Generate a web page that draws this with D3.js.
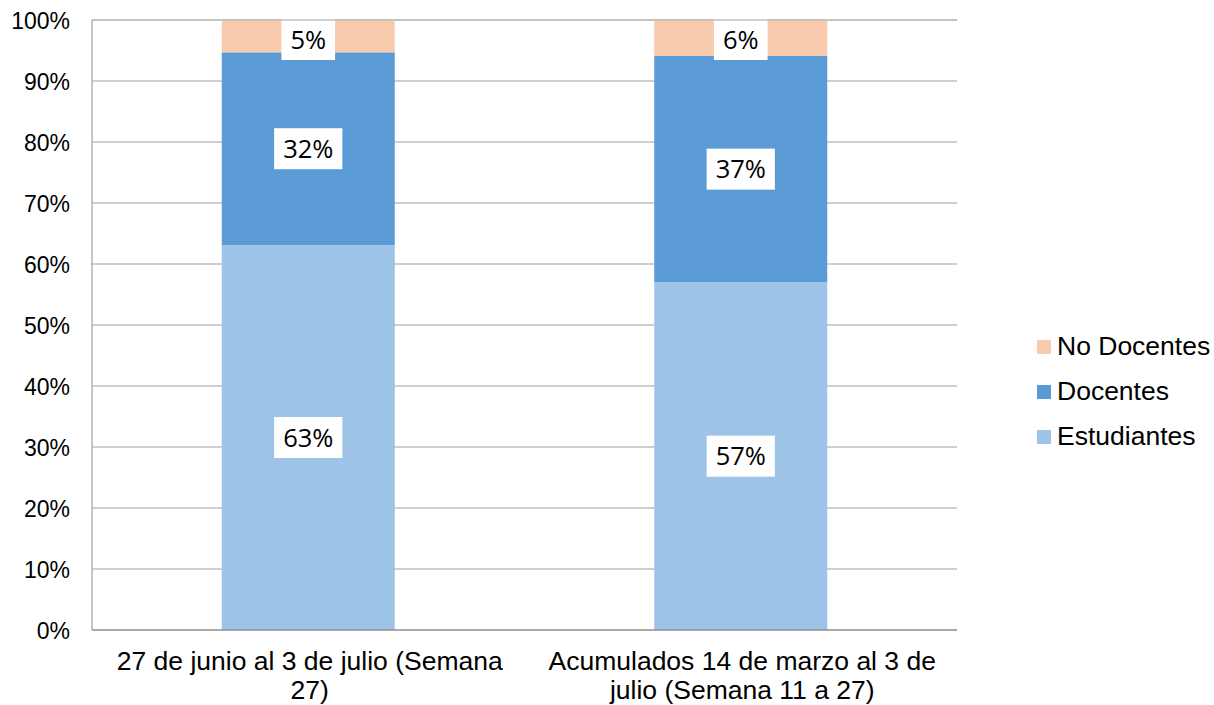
<!DOCTYPE html>
<html>
<head>
<meta charset="utf-8">
<script src="https://cdn.jsdelivr.net/npm/d3@7"></script>
<style>
  body { margin: 0; background: #fff; }
  svg { display: block; }
</style>
</head>
<body>
<svg id="chart"></svg>
<script>
// data
let categories = ["27 de junio al 3 de julio (Semana 27)", "Acumulados 14 de marzo al 3 de julio (Semana 11 a 27)"];
let categoryLines = [["27 de junio al 3 de julio (Semana", "27)"], ["Acumulados 14 de marzo al 3 de", "julio (Semana 11 a 27)"]];
let seriesNames = ["Estudiantes", "Docentes", "No Docentes"];
let estudiantes = [63.1, 57.0];
let docentes = [31.6, 37.1];
let noDocentes = [5.3, 5.9];
let yTicks = [0, 10, 20, 30, 40, 50, 60, 70, 80, 90, 100];

let colors = {"Estudiantes": "#9dc3e6", "Docentes": "#5b9bd5", "No Docentes": "#f8cbad"};

let width = 1214, height = 705;
let plotLeft = 92, plotRight = 957, plotTop = 20, plotBottom = 630;

let svg = d3.select("#chart").attr("width", width).attr("height", height);

let rows = categories.map(function (c, i) {
    return {cat: c, "Estudiantes": estudiantes[i], "Docentes": docentes[i], "No Docentes": noDocentes[i]};
});
let stacked = d3.stack().keys(seriesNames)(rows);

let x = d3.scaleBand().domain(categories).range([plotLeft, plotRight]).paddingInner(0.6).paddingOuter(0.3);
let y = d3.scaleLinear().domain([0, 100]).range([plotBottom, plotTop]);

// gridlines
svg.append("g").selectAll("line").data(yTicks.filter(d => d > 0))
    .enter().append("line")
    .attr("x1", plotLeft).attr("x2", plotRight)
    .attr("y1", d => y(d)).attr("y2", d => y(d))
    .attr("stroke", "#bfbfbf").attr("stroke-width", 1.3);

// y axis line
svg.append("line")
    .attr("x1", plotLeft).attr("x2", plotLeft).attr("y1", plotTop).attr("y2", plotBottom)
    .attr("stroke", "#a6a6a6").attr("stroke-width", 1.3);

// y tick labels
svg.append("g").selectAll("text").data(yTicks)
    .enter().append("text")
    .attr("x", plotLeft - 22).attr("y", d => y(d) + 1)
    .attr("dy", "0.35em")
    .attr("text-anchor", "end")
    .attr("font-family", "Liberation Sans, Arial, sans-serif")
    .attr("font-size", 23)
    .attr("fill", "#000")
    .text(d => d + "%");

// bars
let layers = svg.append("g").selectAll("g").data(stacked)
    .enter().append("g")
    .attr("fill", d => colors[d.key]);
layers.selectAll("rect").data(d => d)
    .enter().append("rect")
    .attr("x", d => x(d.data.cat))
    .attr("width", x.bandwidth())
    .attr("y", d => y(d[1]))
    .attr("height", d => y(d[0]) - y(d[1]));

// x axis line
svg.append("line")
    .attr("x1", plotLeft).attr("x2", plotRight).attr("y1", plotBottom).attr("y2", plotBottom)
    .attr("stroke", "#8c8c8c").attr("stroke-width", 1.5);

// value labels
let labelData = [];
stacked.forEach(function (layer) {
    layer.forEach(function (d) {
        let cy = y((d[0] + d[1]) / 2);
        // keep the box inside the plot area
        if (cy - 19.5 < plotTop) cy = plotTop + 19.5;
        labelData.push({cx: x(d.data.cat) + x.bandwidth() / 2, val: d[1] - d[0], cy: cy});
    });
});
let labels = svg.append("g").selectAll("g").data(labelData)
    .enter().append("g")
    .attr("transform", d => "translate(" + d.cx + "," + d.cy + ")");
labels.append("text")
    .attr("text-anchor", "middle")
    .attr("dy", "0.36em")
    .attr("font-family", "Open Sans, sans-serif")
    .attr("font-size", 25.5)
    .attr("fill", "#000")
    .text(d => Math.round(d.val) + "%");
labels.each(function () {
    let g = d3.select(this);
    let bb = g.select("text").node().getBBox();
    g.insert("rect", "text")
        .attr("x", bb.x - 9).attr("y", -20.5)
        .attr("width", bb.width + 18).attr("height", 41)
        .attr("fill", "#fff");
});
// top gridline drawn over the clipped label boxes
svg.append("line")
    .attr("x1", plotLeft).attr("x2", plotRight).attr("y1", plotTop).attr("y2", plotTop)
    .attr("stroke", "#bfbfbf").attr("stroke-width", 1.3);

// category labels
let catG = svg.append("g").selectAll("text").data(categories)
    .enter().append("text")
    .attr("x", d => x(d) + x.bandwidth() / 2 + 1.5)
    .attr("y", 670)
    .attr("text-anchor", "middle")
    .attr("font-family", "Liberation Sans, Arial, sans-serif")
    .attr("font-size", 26.5)
    .attr("fill", "#000");
catG.selectAll("tspan").data((d, i) => categoryLines[i])
    .enter().append("tspan")
    .attr("x", function () { return d3.select(this.parentNode).attr("x"); })
    .attr("dy", (d, i) => i === 0 ? 0 : 29)
    .text(d => d);

// legend
let legendItems = seriesNames.slice().reverse();
let legend = svg.append("g").selectAll("g").data(legendItems)
    .enter().append("g")
    .attr("transform", (d, i) => "translate(1037," + (347 + i * 45) + ")");
legend.append("rect")
    .attr("x", 0).attr("y", -7).attr("width", 14).attr("height", 14)
    .attr("fill", d => colors[d]);
legend.append("text")
    .attr("x", 20).attr("y", -1).attr("dy", "0.35em")
    .attr("font-family", "Liberation Sans, Arial, sans-serif")
    .attr("font-size", 26.5)
    .attr("fill", "#000")
    .text(d => d);
</script>
</body>
</html>
